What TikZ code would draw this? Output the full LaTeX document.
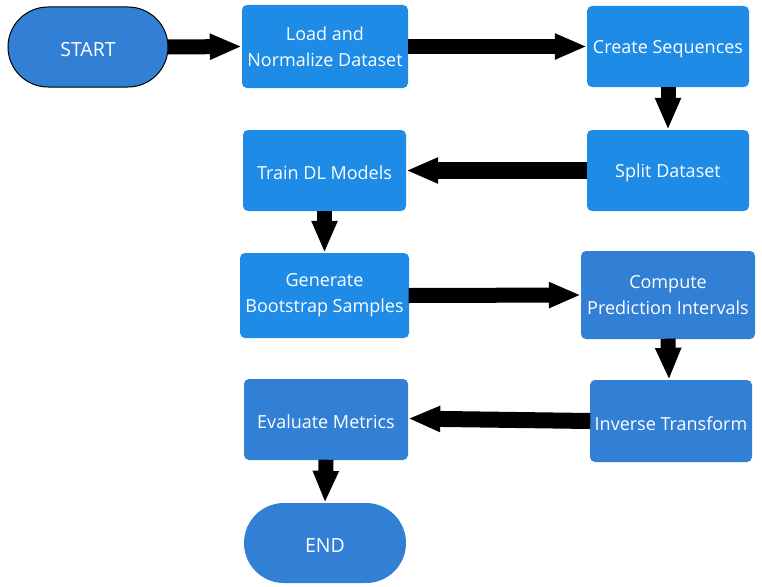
\documentclass[tikz,border=0pt]{standalone}
\usepackage{fontspec}
\setmainfont{Open Sans}
\usetikzlibrary{arrows.meta}
\definecolor{boxA}{HTML}{1E8BE6}
\definecolor{boxB}{HTML}{327FD6}
\newcommand{\dn}[1]{\raisebox{-2.5pt}[\height][\depth]{#1}}
\tikzset{
  proc/.style={rectangle, rounded corners=5pt, fill=#1, text=white, align=center,
    font=\fontsize{18}{26}\selectfont, inner sep=0pt},
  term/.style={rectangle, rounded corners=40pt, fill=boxB, text=white, align=center,
    font=\fontsize{19.5}{22}\selectfont, inner sep=0pt},
  flow/.style={line width=15pt, -{Triangle[length=32pt,width=24pt]}, black, shorten <=-0.5pt},
}
\begin{document}
\begin{tikzpicture}[x=1pt,y=-1pt]
\useasboundingbox (0,0) rectangle (762,586);
\node[term, draw=black, line width=1pt, minimum width=160pt, minimum height=80pt] (start) at (88,47) {\dn{START}};
\node[proc=boxA, minimum width=166pt, minimum height=83pt] (load) at (325,46.5) {Load and\\Normalize Dataset};
\node[proc=boxA, minimum width=162pt, minimum height=81pt] (seq) at (668,46.5) {\dn{Create Sequences}};
\node[proc=boxA, minimum width=162pt, minimum height=81pt] (split) at (668,170.5) {\dn{Split Dataset}};
\node[proc=boxA, minimum width=163pt, minimum height=81pt] (train) at (324.5,170.5) {\dn{Train DL Models}};
\node[proc=boxA, minimum width=169pt, minimum height=85pt] (boot) at (324.5,295.5) {Generate\\Bootstrap Samples};
\node[proc=boxB, minimum width=174pt, minimum height=88pt] (pi) at (668,295) {Compute\\Prediction Intervals};
\node[proc=boxB, minimum width=162pt, minimum height=82pt] (inv) at (671,421) {\dn{Inverse Transform}};
\node[proc=boxB, minimum width=164pt, minimum height=81pt] (eval) at (326,419.5) {\dn{Evaluate Metrics}};
\node[term, minimum width=162pt, minimum height=80pt] (end) at (325,543) {\dn{END}};
\draw[flow] (start.east) -- (load.west);
\draw[flow] (load.east) -- (seq.west);
\draw[flow] (seq.south) -- (split.north);
\draw[flow, line width=17pt] (split.west) -- (train.east);
\draw[flow] (train.south) -- (boot.north);
\draw[flow] (boot.east) -- (pi.west);
\draw[flow] (pi.south) -- ([xshift=-2pt]inv.north);
\draw[flow, line width=16pt] (inv.west) -- ([yshift=1pt]eval.east);
\draw[flow] (eval.south) -- (end.north);
\end{tikzpicture}
\end{document}
